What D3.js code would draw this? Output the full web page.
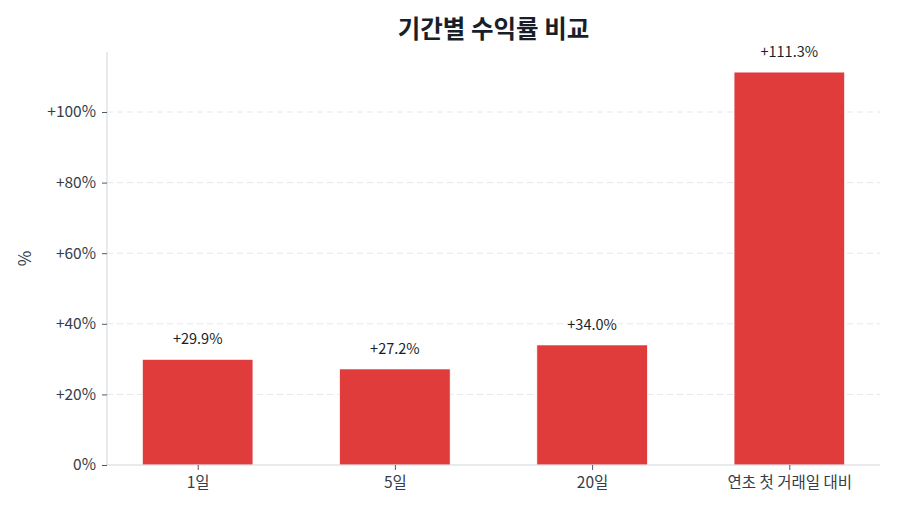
<!DOCTYPE html>
<html>
<head>
<meta charset="utf-8">
<script src="https://cdn.jsdelivr.net/npm/d3@7"></script>
<style>
  body { margin: 0; background: #fff; }
  svg text { font-family: "Noto Sans CJK KR", "Noto Sans", sans-serif; }
</style>
</head>
<body>
<div id="chart"></div>
<script>
// data
var categories = ["1일", "5일", "20일", "연초 첫 거래일 대비"];
var returns = [29.9, 27.2, 34.0, 111.3];
var yTicks = [0, 20, 40, 60, 80, 100];

var W = 900, H = 514;
var margin = {top: 52, right: 20, bottom: 49, left: 107}
  , width = W - margin.left - margin.right
  , height = H - margin.top - margin.bottom;

var svg = d3.select("#chart").append("svg")
    .attr("width", W)
    .attr("height", H);

var g = svg.append("g")
    .attr("transform", "translate(" + margin.left + "," + margin.top + ")");

var xScale = d3.scalePoint()
    .domain(categories)
    .range([0, width])
    .padding(0.46);

var barW = xScale.step() * 0.56;

var yScale = d3.scaleLinear()
    .domain([0, 117])
    .range([height, 0]);

// grid
g.selectAll(".grid")
    .data(yTicks.slice(1))
  .enter().append("line")
    .attr("x1", 0)
    .attr("x2", width)
    .attr("y1", function(d) { return yScale(d); })
    .attr("y2", function(d) { return yScale(d); })
    .attr("stroke", "#e5e8eb")
    .attr("stroke-dasharray", "6,4");

// bars
g.selectAll(".bar")
    .data(returns)
  .enter().append("rect")
    .attr("x", function(d, i) { return xScale(categories[i]) - barW / 2; })
    .attr("y", function(d) { return yScale(d); })
    .attr("width", barW)
    .attr("height", function(d) { return height - yScale(d); })
    .attr("fill", "#e03c3c")
    .attr("stroke", "#fff")
    .attr("stroke-width", 0.6);

// value labels
g.selectAll(".val")
    .data(returns)
  .enter().append("text")
    .attr("x", function(d, i) { return xScale(categories[i]); })
    .attr("y", function(d) { return yScale(d) - 15; })
    .attr("text-anchor", "middle")
    .attr("font-size", 14.5)
    .attr("fill", "#191f28")
    .text(function(d) { return "+" + d.toFixed(1) + "%"; });

// axes
var yAxis = g.append("g")
    .call(d3.axisLeft(yScale)
      .tickValues(yTicks)
      .tickSize(5)
      .tickPadding(6)
      .tickFormat(function(d) { return d === 0 ? "0%" : "+" + d + "%"; }));

var xAxis = g.append("g")
    .attr("transform", "translate(0," + height + ")")
    .call(d3.axisBottom(xScale).tickSize(5).tickPadding(7));

[yAxis, xAxis].forEach(function(a) {
  a.select(".domain").attr("stroke", "#d1d6db");
  a.selectAll(".tick line").attr("stroke", "#4e5968");
  a.selectAll(".tick text")
    .attr("font-size", 15.5)
    .attr("fill", "#333d4b")
    .style("font-family", '"Noto Sans CJK KR", "Noto Sans", sans-serif');
});
// axis line spans full height
yAxis.select(".domain").attr("d", "M0," + height + "V0");
xAxis.select(".domain").attr("d", "M0,0H" + width);

// y label
svg.append("text")
    .attr("transform", "translate(31," + (margin.top + height / 2) + ") rotate(-90)")
    .attr("text-anchor", "middle")
    .attr("font-size", 17)
    .attr("fill", "#333d4b")
    .text("%");

// title
svg.append("text")
    .attr("x", margin.left + width / 2)
    .attr("y", 38)
    .attr("text-anchor", "middle")
    .attr("font-size", 24.5)
    .attr("font-weight", "bold")
    .attr("fill", "#191f28")
    .text("기간별 수익률 비교");
</script>
</body>
</html>
